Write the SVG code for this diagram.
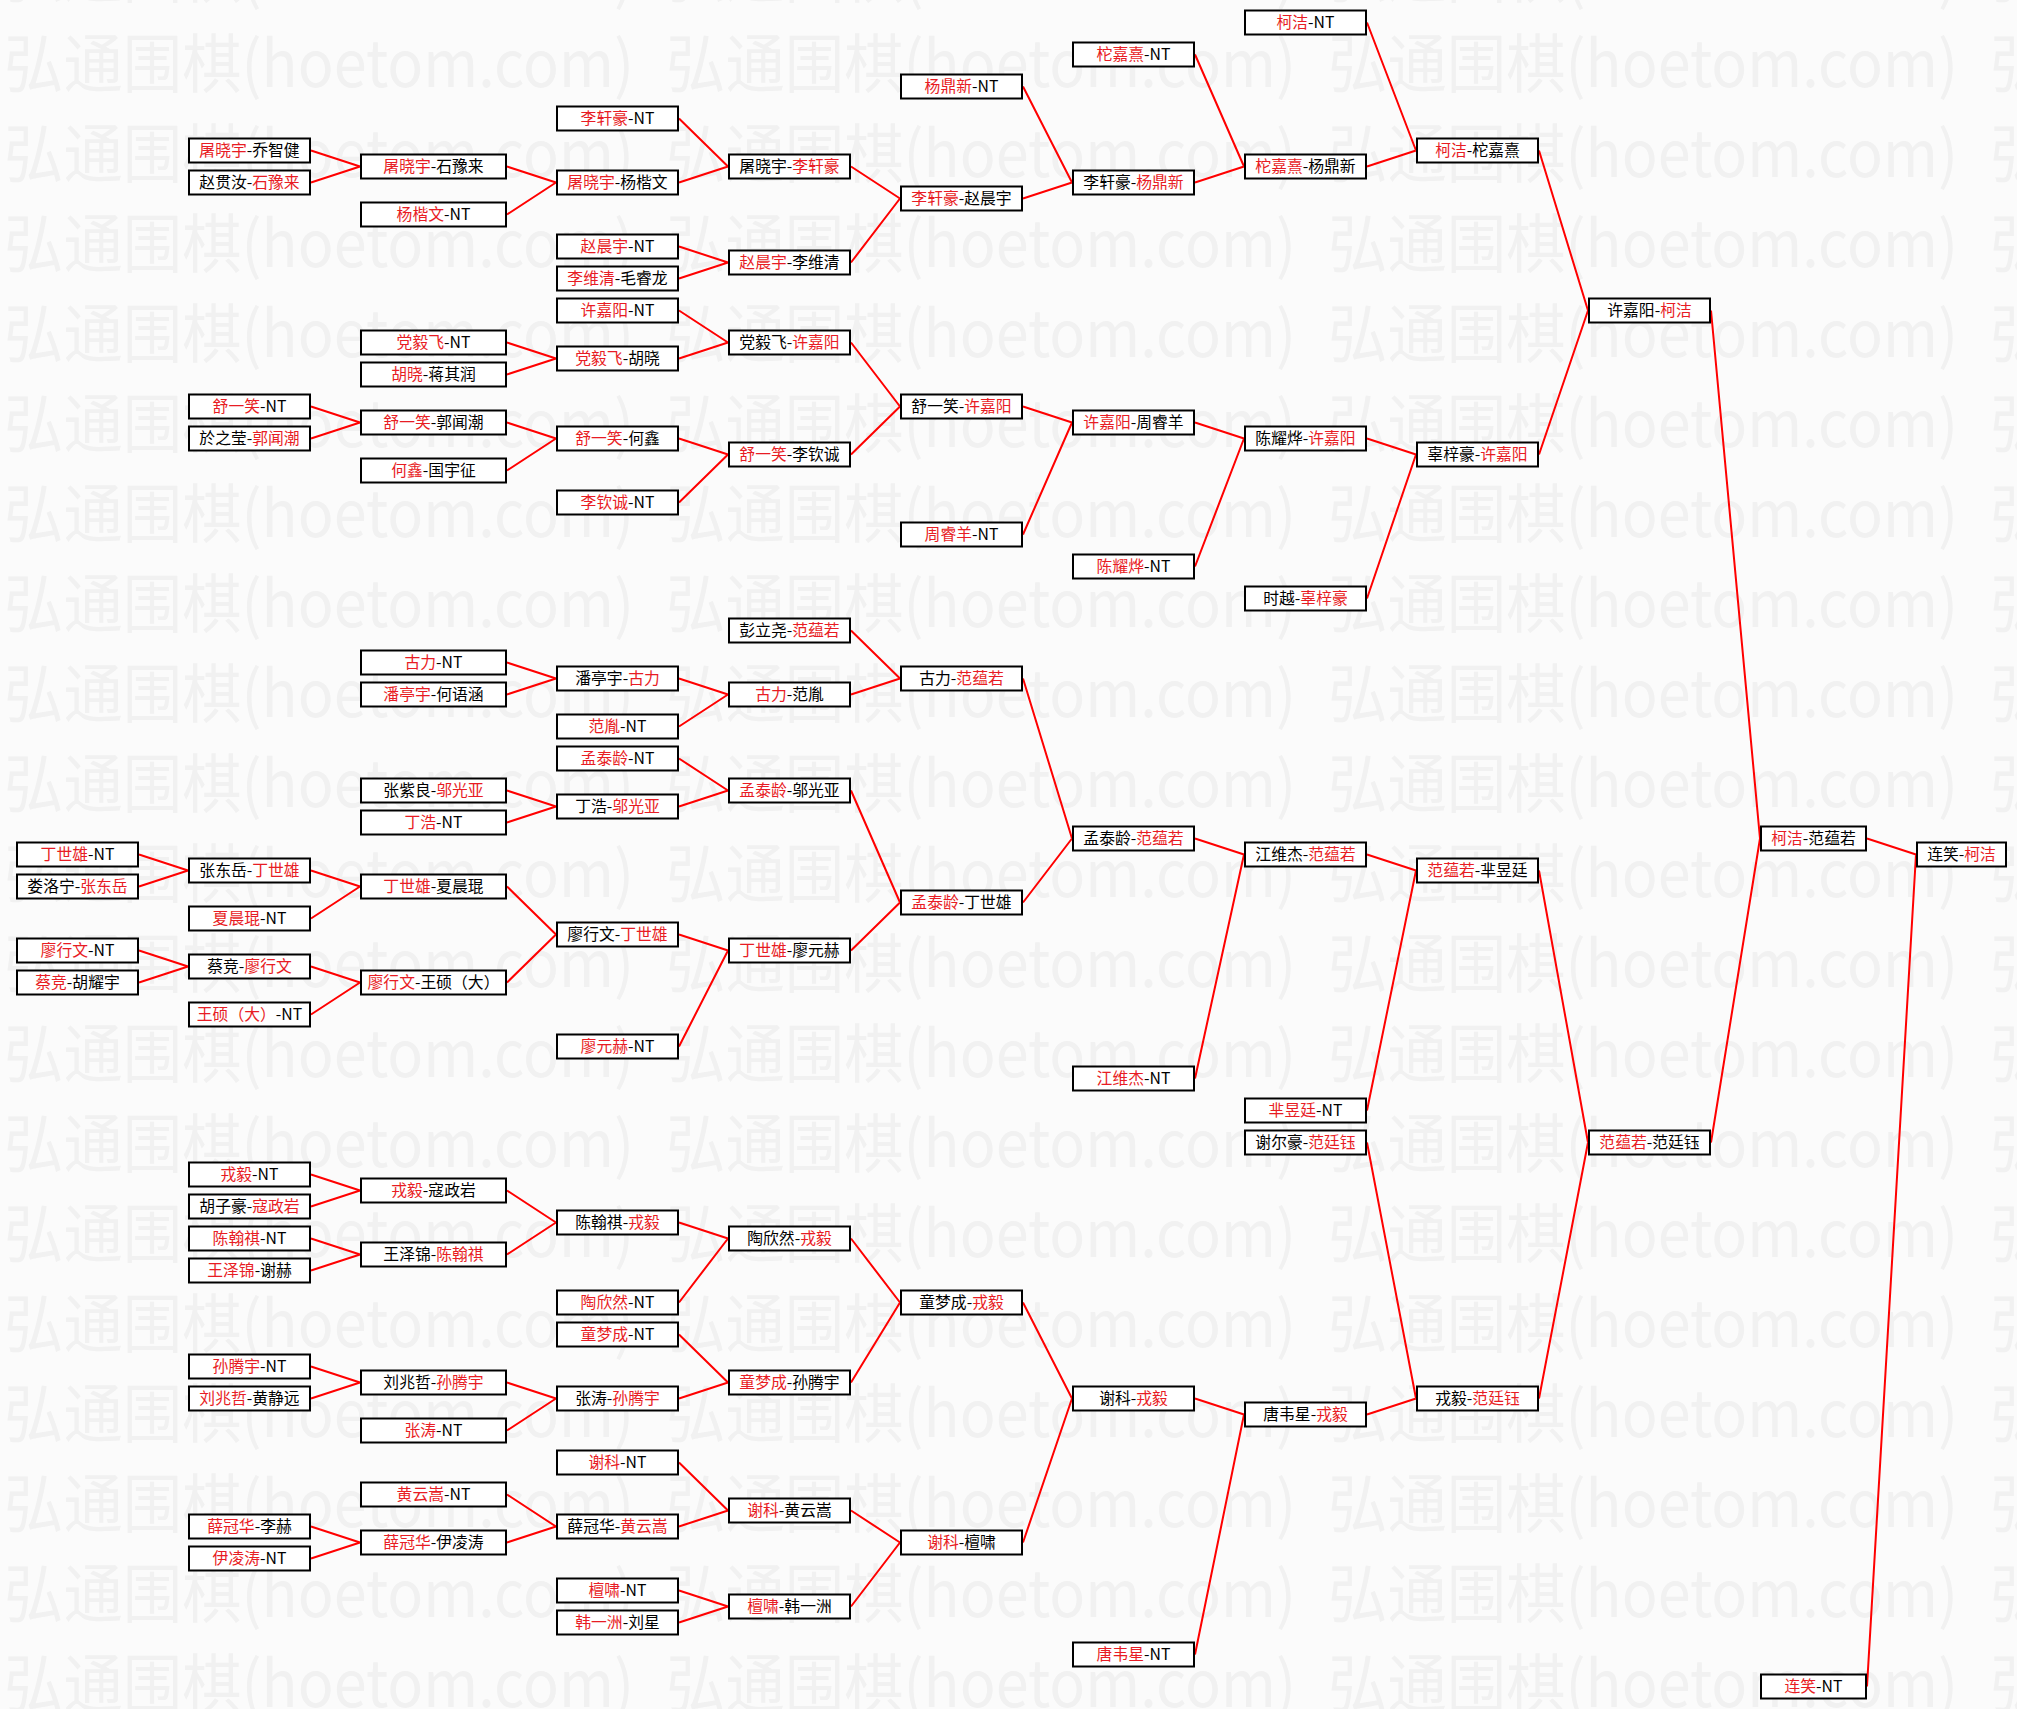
<svg xmlns="http://www.w3.org/2000/svg" width="2017" height="1709" viewBox="0 0 2017 1709">
<style>
.bg{fill:#fbfbfb}
.w{font-family:"Noto Sans CJK SC",sans-serif;font-size:64px;fill:#f1f1f1}
.c path{stroke:#ff0000;stroke-width:2;fill:none}
.n rect{fill:#ffffff;stroke:#000000;stroke-width:2}
.n text{font-family:"Noto Sans CJK SC",sans-serif;font-size:15.8px;fill:#000000;text-anchor:middle}
.n .r{fill:#e81c24}
</style>
<defs>
<pattern id="wm" patternUnits="userSpaceOnUse" x="4" y="17" width="662" height="90">
<text class="w" x="0" y="70" textLength="630" lengthAdjust="spacingAndGlyphs">弘通围棋(hoetom.com)</text>
</pattern>
</defs>
<rect class="bg" x="0" y="0" width="2017" height="1709"/>
<rect x="0" y="0" width="2017" height="1709" fill="url(#wm)"/>
<g id="connectors" class="c">
<path d="M311 150.5L360 166.5M311 182.5L360 166.5"/>
<path d="M507 166.5L556 182.5M507 214.5L556 182.5"/>
<path d="M679 118.5L728 166.5M679 182.5L728 166.5"/>
<path d="M679 246.5L728 262.5M679 278.5L728 262.5"/>
<path d="M851 166.5L900 198.5M851 262.5L900 198.5"/>
<path d="M1023 86.5L1072 182.5M1023 198.5L1072 182.5"/>
<path d="M1195 54.5L1244 166.5M1195 182.5L1244 166.5"/>
<path d="M1367 22.5L1416 150.5M1367 166.5L1416 150.5"/>
<path d="M507 342.5L556 358.5M507 374.5L556 358.5"/>
<path d="M679 310.5L728 342.5M679 358.5L728 342.5"/>
<path d="M311 406.5L360 422.5M311 438.5L360 422.5"/>
<path d="M507 422.5L556 438.5M507 470.5L556 438.5"/>
<path d="M679 438.5L728 454.5M679 502.5L728 454.5"/>
<path d="M851 342.5L900 406.5M851 454.5L900 406.5"/>
<path d="M1023 406.5L1072 422.5M1023 534.5L1072 422.5"/>
<path d="M1195 422.5L1244 438.5M1195 566.5L1244 438.5"/>
<path d="M1367 438.5L1416 454.5M1367 598.5L1416 454.5"/>
<path d="M1539 150.5L1588 310.5M1539 454.5L1588 310.5"/>
<path d="M507 662.5L556 678.5M507 694.5L556 678.5"/>
<path d="M679 678.5L728 694.5M679 726.5L728 694.5"/>
<path d="M851 630.5L900 678.5M851 694.5L900 678.5"/>
<path d="M507 790.5L556 806.5M507 822.5L556 806.5"/>
<path d="M679 758.5L728 790.5M679 806.5L728 790.5"/>
<path d="M139 854.5L188 870.5M139 886.5L188 870.5"/>
<path d="M311 870.5L360 886.5M311 918.5L360 886.5"/>
<path d="M139 950.5L188 966.5M139 982.5L188 966.5"/>
<path d="M311 966.5L360 982.5M311 1014.5L360 982.5"/>
<path d="M507 886.5L556 934.5M507 982.5L556 934.5"/>
<path d="M679 934.5L728 950.5M679 1046.5L728 950.5"/>
<path d="M851 790.5L900 902.5M851 950.5L900 902.5"/>
<path d="M1023 678.5L1072 838.5M1023 902.5L1072 838.5"/>
<path d="M1195 838.5L1244 854.5M1195 1078.5L1244 854.5"/>
<path d="M1367 854.5L1416 870.5M1367 1110.5L1416 870.5"/>
<path d="M311 1174.5L360 1190.5M311 1206.5L360 1190.5"/>
<path d="M311 1238.5L360 1254.5M311 1270.5L360 1254.5"/>
<path d="M507 1190.5L556 1222.5M507 1254.5L556 1222.5"/>
<path d="M679 1222.5L728 1238.5M679 1302.5L728 1238.5"/>
<path d="M311 1366.5L360 1382.5M311 1398.5L360 1382.5"/>
<path d="M507 1382.5L556 1398.5M507 1430.5L556 1398.5"/>
<path d="M679 1334.5L728 1382.5M679 1398.5L728 1382.5"/>
<path d="M851 1238.5L900 1302.5M851 1382.5L900 1302.5"/>
<path d="M311 1526.5L360 1542.5M311 1558.5L360 1542.5"/>
<path d="M507 1494.5L556 1526.5M507 1542.5L556 1526.5"/>
<path d="M679 1462.5L728 1510.5M679 1526.5L728 1510.5"/>
<path d="M679 1590.5L728 1606.5M679 1622.5L728 1606.5"/>
<path d="M851 1510.5L900 1542.5M851 1606.5L900 1542.5"/>
<path d="M1023 1302.5L1072 1398.5M1023 1542.5L1072 1398.5"/>
<path d="M1195 1398.5L1244 1414.5M1195 1654.5L1244 1414.5"/>
<path d="M1367 1142.5L1416 1398.5M1367 1414.5L1416 1398.5"/>
<path d="M1539 870.5L1588 1142.5M1539 1398.5L1588 1142.5"/>
<path d="M1711 310.5L1760 838.5M1711 1142.5L1760 838.5"/>
<path d="M1867 838.5L1916 854.5M1867 1686.5L1916 854.5"/>
</g>
<g id="nodes" class="n">
<g id="nA26" transform="translate(16,854.5)"><rect x="1" y="-12" width="121" height="24"/><text x="61.5" y="5.5"><tspan class="r">丁世雄</tspan>-NT</text></g>
<g id="nA27" transform="translate(16,886.5)"><rect x="1" y="-12" width="121" height="24"/><text x="61.5" y="5.5">娄洛宁-<tspan class="r">张东岳</tspan></text></g>
<g id="nA29" transform="translate(16,950.5)"><rect x="1" y="-12" width="121" height="24"/><text x="61.5" y="5.5"><tspan class="r">廖行文</tspan>-NT</text></g>
<g id="nA30" transform="translate(16,982.5)"><rect x="1" y="-12" width="121" height="24"/><text x="61.5" y="5.5"><tspan class="r">蔡竞</tspan>-胡耀宇</text></g>

<g id="nB4" transform="translate(188,150.5)"><rect x="1" y="-12" width="121" height="24"/><text x="61.5" y="5.5"><tspan class="r">屠晓宇</tspan>-乔智健</text></g>
<g id="nB5" transform="translate(188,182.5)"><rect x="1" y="-12" width="121" height="24"/><text x="61.5" y="5.5">赵贯汝-<tspan class="r">石豫来</tspan></text></g>
<g id="nB12" transform="translate(188,406.5)"><rect x="1" y="-12" width="121" height="24"/><text x="61.5" y="5.5"><tspan class="r">舒一笑</tspan>-NT</text></g>
<g id="nB13" transform="translate(188,438.5)"><rect x="1" y="-12" width="121" height="24"/><text x="61.5" y="5.5">於之莹-<tspan class="r">郭闻潮</tspan></text></g>
<g id="nB26h" transform="translate(188,870.5)"><rect x="1" y="-12" width="121" height="24"/><text x="61.5" y="5.5">张东岳-<tspan class="r">丁世雄</tspan></text></g>
<g id="nB28" transform="translate(188,918.5)"><rect x="1" y="-12" width="121" height="24"/><text x="61.5" y="5.5"><tspan class="r">夏晨琨</tspan>-NT</text></g>
<g id="nB29h" transform="translate(188,966.5)"><rect x="1" y="-12" width="121" height="24"/><text x="61.5" y="5.5">蔡竞-<tspan class="r">廖行文</tspan></text></g>
<g id="nB31" transform="translate(188,1014.5)"><rect x="1" y="-12" width="121" height="24"/><text x="61.5" y="5.5"><tspan class="r">王硕（大）</tspan>-NT</text></g>
<g id="nB36" transform="translate(188,1174.5)"><rect x="1" y="-12" width="121" height="24"/><text x="61.5" y="5.5"><tspan class="r">戎毅</tspan>-NT</text></g>
<g id="nB37" transform="translate(188,1206.5)"><rect x="1" y="-12" width="121" height="24"/><text x="61.5" y="5.5">胡子豪-<tspan class="r">寇政岩</tspan></text></g>
<g id="nB38" transform="translate(188,1238.5)"><rect x="1" y="-12" width="121" height="24"/><text x="61.5" y="5.5"><tspan class="r">陈翰祺</tspan>-NT</text></g>
<g id="nB39" transform="translate(188,1270.5)"><rect x="1" y="-12" width="121" height="24"/><text x="61.5" y="5.5"><tspan class="r">王泽锦</tspan>-谢赫</text></g>
<g id="nB42" transform="translate(188,1366.5)"><rect x="1" y="-12" width="121" height="24"/><text x="61.5" y="5.5"><tspan class="r">孙腾宇</tspan>-NT</text></g>
<g id="nB43" transform="translate(188,1398.5)"><rect x="1" y="-12" width="121" height="24"/><text x="61.5" y="5.5"><tspan class="r">刘兆哲</tspan>-黄静远</text></g>
<g id="nB47" transform="translate(188,1526.5)"><rect x="1" y="-12" width="121" height="24"/><text x="61.5" y="5.5"><tspan class="r">薛冠华</tspan>-李赫</text></g>
<g id="nB48" transform="translate(188,1558.5)"><rect x="1" y="-12" width="121" height="24"/><text x="61.5" y="5.5"><tspan class="r">伊凌涛</tspan>-NT</text></g>

<g id="nC4h" transform="translate(360,166.5)"><rect x="1" y="-12" width="145" height="24"/><text x="73.5" y="5.5"><tspan class="r">屠晓宇</tspan>-石豫来</text></g>
<g id="nC6" transform="translate(360,214.5)"><rect x="1" y="-12" width="145" height="24"/><text x="73.5" y="5.5"><tspan class="r">杨楷文</tspan>-NT</text></g>
<g id="nC10" transform="translate(360,342.5)"><rect x="1" y="-12" width="145" height="24"/><text x="73.5" y="5.5"><tspan class="r">党毅飞</tspan>-NT</text></g>
<g id="nC11" transform="translate(360,374.5)"><rect x="1" y="-12" width="145" height="24"/><text x="73.5" y="5.5"><tspan class="r">胡晓</tspan>-蒋其润</text></g>
<g id="nC12h" transform="translate(360,422.5)"><rect x="1" y="-12" width="145" height="24"/><text x="73.5" y="5.5"><tspan class="r">舒一笑</tspan>-郭闻潮</text></g>
<g id="nC14" transform="translate(360,470.5)"><rect x="1" y="-12" width="145" height="24"/><text x="73.5" y="5.5"><tspan class="r">何鑫</tspan>-国宇征</text></g>
<g id="nC20" transform="translate(360,662.5)"><rect x="1" y="-12" width="145" height="24"/><text x="73.5" y="5.5"><tspan class="r">古力</tspan>-NT</text></g>
<g id="nC21" transform="translate(360,694.5)"><rect x="1" y="-12" width="145" height="24"/><text x="73.5" y="5.5"><tspan class="r">潘亭宇</tspan>-何语涵</text></g>
<g id="nC24" transform="translate(360,790.5)"><rect x="1" y="-12" width="145" height="24"/><text x="73.5" y="5.5">张紫良-<tspan class="r">邬光亚</tspan></text></g>
<g id="nC25" transform="translate(360,822.5)"><rect x="1" y="-12" width="145" height="24"/><text x="73.5" y="5.5"><tspan class="r">丁浩</tspan>-NT</text></g>
<g id="nC27" transform="translate(360,886.5)"><rect x="1" y="-12" width="145" height="24"/><text x="73.5" y="5.5"><tspan class="r">丁世雄</tspan>-夏晨琨</text></g>
<g id="nC30" transform="translate(360,982.5)"><rect x="1" y="-12" width="145" height="24"/><text x="73.5" y="5.5"><tspan class="r">廖行文</tspan>-王硕（大）</text></g>
<g id="nC36h" transform="translate(360,1190.5)"><rect x="1" y="-12" width="145" height="24"/><text x="73.5" y="5.5"><tspan class="r">戎毅</tspan>-寇政岩</text></g>
<g id="nC38h" transform="translate(360,1254.5)"><rect x="1" y="-12" width="145" height="24"/><text x="73.5" y="5.5">王泽锦-<tspan class="r">陈翰祺</tspan></text></g>
<g id="nC42h" transform="translate(360,1382.5)"><rect x="1" y="-12" width="145" height="24"/><text x="73.5" y="5.5">刘兆哲-<tspan class="r">孙腾宇</tspan></text></g>
<g id="nC44" transform="translate(360,1430.5)"><rect x="1" y="-12" width="145" height="24"/><text x="73.5" y="5.5"><tspan class="r">张涛</tspan>-NT</text></g>
<g id="nC46" transform="translate(360,1494.5)"><rect x="1" y="-12" width="145" height="24"/><text x="73.5" y="5.5"><tspan class="r">黄云嵩</tspan>-NT</text></g>
<g id="nC47h" transform="translate(360,1542.5)"><rect x="1" y="-12" width="145" height="24"/><text x="73.5" y="5.5"><tspan class="r">薛冠华</tspan>-伊凌涛</text></g>

<g id="nD3" transform="translate(556,118.5)"><rect x="1" y="-12" width="121" height="24"/><text x="61.5" y="5.5"><tspan class="r">李轩豪</tspan>-NT</text></g>
<g id="nD5" transform="translate(556,182.5)"><rect x="1" y="-12" width="121" height="24"/><text x="61.5" y="5.5"><tspan class="r">屠晓宇</tspan>-杨楷文</text></g>
<g id="nD7" transform="translate(556,246.5)"><rect x="1" y="-12" width="121" height="24"/><text x="61.5" y="5.5"><tspan class="r">赵晨宇</tspan>-NT</text></g>
<g id="nD8" transform="translate(556,278.5)"><rect x="1" y="-12" width="121" height="24"/><text x="61.5" y="5.5"><tspan class="r">李维清</tspan>-毛睿龙</text></g>
<g id="nD9" transform="translate(556,310.5)"><rect x="1" y="-12" width="121" height="24"/><text x="61.5" y="5.5"><tspan class="r">许嘉阳</tspan>-NT</text></g>
<g id="nD10h" transform="translate(556,358.5)"><rect x="1" y="-12" width="121" height="24"/><text x="61.5" y="5.5"><tspan class="r">党毅飞</tspan>-胡晓</text></g>
<g id="nD13" transform="translate(556,438.5)"><rect x="1" y="-12" width="121" height="24"/><text x="61.5" y="5.5"><tspan class="r">舒一笑</tspan>-何鑫</text></g>
<g id="nD15" transform="translate(556,502.5)"><rect x="1" y="-12" width="121" height="24"/><text x="61.5" y="5.5"><tspan class="r">李钦诚</tspan>-NT</text></g>
<g id="nD20h" transform="translate(556,678.5)"><rect x="1" y="-12" width="121" height="24"/><text x="61.5" y="5.5">潘亭宇-<tspan class="r">古力</tspan></text></g>
<g id="nD22" transform="translate(556,726.5)"><rect x="1" y="-12" width="121" height="24"/><text x="61.5" y="5.5"><tspan class="r">范胤</tspan>-NT</text></g>
<g id="nD23" transform="translate(556,758.5)"><rect x="1" y="-12" width="121" height="24"/><text x="61.5" y="5.5"><tspan class="r">孟泰龄</tspan>-NT</text></g>
<g id="nD24h" transform="translate(556,806.5)"><rect x="1" y="-12" width="121" height="24"/><text x="61.5" y="5.5">丁浩-<tspan class="r">邬光亚</tspan></text></g>
<g id="nD28h" transform="translate(556,934.5)"><rect x="1" y="-12" width="121" height="24"/><text x="61.5" y="5.5">廖行文-<tspan class="r">丁世雄</tspan></text></g>
<g id="nD32" transform="translate(556,1046.5)"><rect x="1" y="-12" width="121" height="24"/><text x="61.5" y="5.5"><tspan class="r">廖元赫</tspan>-NT</text></g>
<g id="nD37h" transform="translate(556,1222.5)"><rect x="1" y="-12" width="121" height="24"/><text x="61.5" y="5.5">陈翰祺-<tspan class="r">戎毅</tspan></text></g>
<g id="nD40" transform="translate(556,1302.5)"><rect x="1" y="-12" width="121" height="24"/><text x="61.5" y="5.5"><tspan class="r">陶欣然</tspan>-NT</text></g>
<g id="nD41" transform="translate(556,1334.5)"><rect x="1" y="-12" width="121" height="24"/><text x="61.5" y="5.5"><tspan class="r">童梦成</tspan>-NT</text></g>
<g id="nD43" transform="translate(556,1398.5)"><rect x="1" y="-12" width="121" height="24"/><text x="61.5" y="5.5">张涛-<tspan class="r">孙腾宇</tspan></text></g>
<g id="nD45" transform="translate(556,1462.5)"><rect x="1" y="-12" width="121" height="24"/><text x="61.5" y="5.5"><tspan class="r">谢科</tspan>-NT</text></g>
<g id="nD47" transform="translate(556,1526.5)"><rect x="1" y="-12" width="121" height="24"/><text x="61.5" y="5.5">薛冠华-<tspan class="r">黄云嵩</tspan></text></g>
<g id="nD49" transform="translate(556,1590.5)"><rect x="1" y="-12" width="121" height="24"/><text x="61.5" y="5.5"><tspan class="r">檀啸</tspan>-NT</text></g>
<g id="nD50" transform="translate(556,1622.5)"><rect x="1" y="-12" width="121" height="24"/><text x="61.5" y="5.5"><tspan class="r">韩一洲</tspan>-刘星</text></g>

<g id="nE4h" transform="translate(728,166.5)"><rect x="1" y="-12" width="121" height="24"/><text x="61.5" y="5.5">屠晓宇-<tspan class="r">李轩豪</tspan></text></g>
<g id="nE7h" transform="translate(728,262.5)"><rect x="1" y="-12" width="121" height="24"/><text x="61.5" y="5.5"><tspan class="r">赵晨宇</tspan>-李维清</text></g>
<g id="nE10" transform="translate(728,342.5)"><rect x="1" y="-12" width="121" height="24"/><text x="61.5" y="5.5">党毅飞-<tspan class="r">许嘉阳</tspan></text></g>
<g id="nE13h" transform="translate(728,454.5)"><rect x="1" y="-12" width="121" height="24"/><text x="61.5" y="5.5"><tspan class="r">舒一笑</tspan>-李钦诚</text></g>
<g id="nE19" transform="translate(728,630.5)"><rect x="1" y="-12" width="121" height="24"/><text x="61.5" y="5.5">彭立尧-<tspan class="r">范蕴若</tspan></text></g>
<g id="nE21" transform="translate(728,694.5)"><rect x="1" y="-12" width="121" height="24"/><text x="61.5" y="5.5"><tspan class="r">古力</tspan>-范胤</text></g>
<g id="nE24" transform="translate(728,790.5)"><rect x="1" y="-12" width="121" height="24"/><text x="61.5" y="5.5"><tspan class="r">孟泰龄</tspan>-邬光亚</text></g>
<g id="nE29" transform="translate(728,950.5)"><rect x="1" y="-12" width="121" height="24"/><text x="61.5" y="5.5"><tspan class="r">丁世雄</tspan>-廖元赫</text></g>
<g id="nE38" transform="translate(728,1238.5)"><rect x="1" y="-12" width="121" height="24"/><text x="61.5" y="5.5">陶欣然-<tspan class="r">戎毅</tspan></text></g>
<g id="nE42h" transform="translate(728,1382.5)"><rect x="1" y="-12" width="121" height="24"/><text x="61.5" y="5.5"><tspan class="r">童梦成</tspan>-孙腾宇</text></g>
<g id="nE46h" transform="translate(728,1510.5)"><rect x="1" y="-12" width="121" height="24"/><text x="61.5" y="5.5"><tspan class="r">谢科</tspan>-黄云嵩</text></g>
<g id="nE49h" transform="translate(728,1606.5)"><rect x="1" y="-12" width="121" height="24"/><text x="61.5" y="5.5"><tspan class="r">檀啸</tspan>-韩一洲</text></g>

<g id="nF2" transform="translate(900,86.5)"><rect x="1" y="-12" width="121" height="24"/><text x="61.5" y="5.5"><tspan class="r">杨鼎新</tspan>-NT</text></g>
<g id="nF5h" transform="translate(900,198.5)"><rect x="1" y="-12" width="121" height="24"/><text x="61.5" y="5.5"><tspan class="r">李轩豪</tspan>-赵晨宇</text></g>
<g id="nF12" transform="translate(900,406.5)"><rect x="1" y="-12" width="121" height="24"/><text x="61.5" y="5.5">舒一笑-<tspan class="r">许嘉阳</tspan></text></g>
<g id="nF16" transform="translate(900,534.5)"><rect x="1" y="-12" width="121" height="24"/><text x="61.5" y="5.5"><tspan class="r">周睿羊</tspan>-NT</text></g>
<g id="nF20h" transform="translate(900,678.5)"><rect x="1" y="-12" width="121" height="24"/><text x="61.5" y="5.5">古力-<tspan class="r">范蕴若</tspan></text></g>
<g id="nF27h" transform="translate(900,902.5)"><rect x="1" y="-12" width="121" height="24"/><text x="61.5" y="5.5"><tspan class="r">孟泰龄</tspan>-丁世雄</text></g>
<g id="nF40" transform="translate(900,1302.5)"><rect x="1" y="-12" width="121" height="24"/><text x="61.5" y="5.5">童梦成-<tspan class="r">戎毅</tspan></text></g>
<g id="nF47h" transform="translate(900,1542.5)"><rect x="1" y="-12" width="121" height="24"/><text x="61.5" y="5.5"><tspan class="r">谢科</tspan>-檀啸</text></g>

<g id="nG1" transform="translate(1072,54.5)"><rect x="1" y="-12" width="121" height="24"/><text x="61.5" y="5.5"><tspan class="r">柁嘉熹</tspan>-NT</text></g>
<g id="nG5" transform="translate(1072,182.5)"><rect x="1" y="-12" width="121" height="24"/><text x="61.5" y="5.5">李轩豪-<tspan class="r">杨鼎新</tspan></text></g>
<g id="nG12h" transform="translate(1072,422.5)"><rect x="1" y="-12" width="121" height="24"/><text x="61.5" y="5.5"><tspan class="r">许嘉阳</tspan>-周睿羊</text></g>
<g id="nG17" transform="translate(1072,566.5)"><rect x="1" y="-12" width="121" height="24"/><text x="61.5" y="5.5"><tspan class="r">陈耀烨</tspan>-NT</text></g>
<g id="nG25h" transform="translate(1072,838.5)"><rect x="1" y="-12" width="121" height="24"/><text x="61.5" y="5.5">孟泰龄-<tspan class="r">范蕴若</tspan></text></g>
<g id="nG33" transform="translate(1072,1078.5)"><rect x="1" y="-12" width="121" height="24"/><text x="61.5" y="5.5"><tspan class="r">江维杰</tspan>-NT</text></g>
<g id="nG43" transform="translate(1072,1398.5)"><rect x="1" y="-12" width="121" height="24"/><text x="61.5" y="5.5">谢科-<tspan class="r">戎毅</tspan></text></g>
<g id="nG51" transform="translate(1072,1654.5)"><rect x="1" y="-12" width="121" height="24"/><text x="61.5" y="5.5"><tspan class="r">唐韦星</tspan>-NT</text></g>

<g id="nH0" transform="translate(1244,22.5)"><rect x="1" y="-12" width="121" height="24"/><text x="61.5" y="5.5"><tspan class="r">柯洁</tspan>-NT</text></g>
<g id="nH4h" transform="translate(1244,166.5)"><rect x="1" y="-12" width="121" height="24"/><text x="61.5" y="5.5"><tspan class="r">柁嘉熹</tspan>-杨鼎新</text></g>
<g id="nH13" transform="translate(1244,438.5)"><rect x="1" y="-12" width="121" height="24"/><text x="61.5" y="5.5">陈耀烨-<tspan class="r">许嘉阳</tspan></text></g>
<g id="nH18" transform="translate(1244,598.5)"><rect x="1" y="-12" width="121" height="24"/><text x="61.5" y="5.5">时越-<tspan class="r">辜梓豪</tspan></text></g>
<g id="nH26" transform="translate(1244,854.5)"><rect x="1" y="-12" width="121" height="24"/><text x="61.5" y="5.5">江维杰-<tspan class="r">范蕴若</tspan></text></g>
<g id="nH34" transform="translate(1244,1110.5)"><rect x="1" y="-12" width="121" height="24"/><text x="61.5" y="5.5"><tspan class="r">芈昱廷</tspan>-NT</text></g>
<g id="nH35" transform="translate(1244,1142.5)"><rect x="1" y="-12" width="121" height="24"/><text x="61.5" y="5.5">谢尔豪-<tspan class="r">范廷钰</tspan></text></g>
<g id="nH43h" transform="translate(1244,1414.5)"><rect x="1" y="-12" width="121" height="24"/><text x="61.5" y="5.5">唐韦星-<tspan class="r">戎毅</tspan></text></g>

<g id="nI4" transform="translate(1416,150.5)"><rect x="1" y="-12" width="121" height="24"/><text x="61.5" y="5.5"><tspan class="r">柯洁</tspan>-柁嘉熹</text></g>
<g id="nI13h" transform="translate(1416,454.5)"><rect x="1" y="-12" width="121" height="24"/><text x="61.5" y="5.5">辜梓豪-<tspan class="r">许嘉阳</tspan></text></g>
<g id="nI26h" transform="translate(1416,870.5)"><rect x="1" y="-12" width="121" height="24"/><text x="61.5" y="5.5"><tspan class="r">范蕴若</tspan>-芈昱廷</text></g>
<g id="nI43" transform="translate(1416,1398.5)"><rect x="1" y="-12" width="121" height="24"/><text x="61.5" y="5.5">戎毅-<tspan class="r">范廷钰</tspan></text></g>

<g id="nJ9" transform="translate(1588,310.5)"><rect x="1" y="-12" width="121" height="24"/><text x="61.5" y="5.5">许嘉阳-<tspan class="r">柯洁</tspan></text></g>
<g id="nJ35" transform="translate(1588,1142.5)"><rect x="1" y="-12" width="121" height="24"/><text x="61.5" y="5.5"><tspan class="r">范蕴若</tspan>-范廷钰</text></g>

<g id="nK25h" transform="translate(1760,838.5)"><rect x="1" y="-12" width="105" height="24"/><text x="53.5" y="5.5"><tspan class="r">柯洁</tspan>-范蕴若</text></g>
<g id="nK52" transform="translate(1760,1686.5)"><rect x="1" y="-12" width="105" height="24"/><text x="53.5" y="5.5"><tspan class="r">连笑</tspan>-NT</text></g>

<g id="nL26" transform="translate(1916,854.5)"><rect x="1" y="-12" width="89" height="24"/><text x="45.5" y="5.5">连笑-<tspan class="r">柯洁</tspan></text></g>
</g>
</svg>
